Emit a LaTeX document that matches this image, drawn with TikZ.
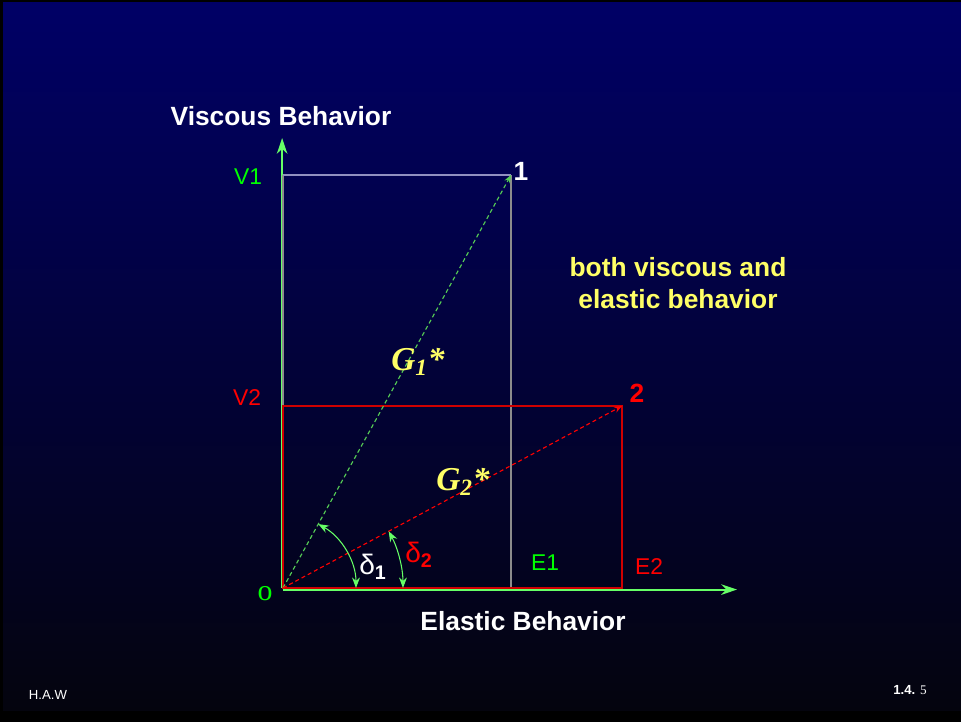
\documentclass[tikz,border=0pt]{standalone}
\usepackage{fontspec}
\setmainfont{Liberation Sans}
\newfontfamily\timesfont{Liberation Serif}
\usetikzlibrary{arrows.meta, positioning, angles}
\definecolor{hwnavy}{HTML}{000066}
\definecolor{hwdark}{HTML}{04040E}
\definecolor{hwgreen}{HTML}{66FF66}
\definecolor{hwlabelgreen}{HTML}{00FF00}
\definecolor{hwdash}{HTML}{55CC55}
\definecolor{hwred}{HTML}{FF0000}
\definecolor{hwdarkred}{HTML}{D00000}
\definecolor{hwgray}{HTML}{8C8C8C}
\definecolor{hwslate}{HTML}{9090C0}
\definecolor{hwyellow}{HTML}{FFFF66}

\begin{document}
\begin{tikzpicture}[
  x=0.02cm, y=0.02cm,
  titlenode/.style={font=\fontsize{15}{18}\selectfont\bfseries, text=white},
  ticknode/.style={font=\fontsize{13}{15}\selectfont},
  pointnode/.style={font=\fontsize{15}{18}\selectfont\bfseries},
  gnode/.style={font=\fontsize{19}{22}\selectfont\timesfont\bfseries\itshape, text=hwyellow},
  anglenode/.style={font=\fontsize{16}{18}\selectfont},
  footnode/.style={font=\fontsize{7.5}{9}\selectfont, text=white},
  axisline/.style={hwgreen, line width=1.2pt, -{Stealth[length=9pt, width=6pt]}},
  boxline/.style={line width=0.6pt},
  vecline/.style={line width=0.65pt, dash pattern=on 2.3pt off 1.7pt, -{Stealth[length=4.5pt, width=3.5pt]}},
  anglearc/.style={draw=hwgreen, line width=0.6pt, {Stealth[length=6pt, width=4.5pt]}-{Stealth[length=6pt, width=4.5pt]}},
]

% Background slide
\useasboundingbox (0,0) rectangle (961,722);
\fill[black] (0,0) rectangle (961,722);
\shade[top color=hwnavy, bottom color=hwdark] (3,11) rectangle (961,719);

% Points
\coordinate (O) at (283,134);
\coordinate (ytip) at (283,584);
\coordinate (xtip) at (737,134);
\coordinate (P1) at (511,547);
\coordinate (P2) at (622,316);
\coordinate (V1) at (283,547);
\coordinate (V2) at (283,316);
\coordinate (E1) at (511,134);
\coordinate (E2) at (622,134);

% Axes
\draw[axisline] ([yshift=-0.9pt]O) -- ([yshift=-0.9pt]xtip);
\draw[axisline] ([xshift=-0.5pt]O) -- ([xshift=-0.5pt]ytip);

% Component boxes
\draw[boxline, hwgray] (V1) -- (O) -- (E1) -- (P1);
\draw[boxline, hwslate] (V1) -- (P1);
\draw[boxline, hwdarkred] (O) -- (V2) -- (P2) -- (E2) -- cycle;

% Complex moduli
\draw[vecline, hwdash] (O) -- (P1);
\draw[vecline, hwred] (O) -- (P2);

% Phase angles
\pic[anglearc, angle radius=1.46cm] {angle = xtip--O--P1};
\pic[anglearc, angle radius=2.4cm] {angle = xtip--O--P2};

% Labels
\node[titlenode] (ylab) at (281,606) {Viscous Behavior};
\node[titlenode] (xlab) at (523,101) {Elastic Behavior};
\node[pointnode, text=white] (n1) at (521,551) {1};
\node[pointnode, text=hwred] (n2) at (637,329) {2};
\node[ticknode, text=hwlabelgreen] (v1) at (248,545) {V1};
\node[ticknode, text=hwred] (v2) at (247,324) {V2};
\node[ticknode, text=hwlabelgreen] (e1) at (545,159) {E1};
\node[ticknode, text=hwred] (e2) at (649,155) {E2};
\node[font=\fontsize{17}{18}\selectfont\timesfont, text=hwlabelgreen] (o) at (265,128) {o};
\node[gnode] (g1) at (418,360) {G\textsubscript{1}*};
\node[gnode] (g2) at (463,240) {G\textsubscript{2}*};
\node[anglenode, text=white] (d1) at (373,155) {δ\textsubscript{\bfseries 1}};
\node[anglenode, text=hwred] (d2) at (419,167) {δ\textsubscript{\bfseries 2}};
\node[titlenode, text=hwyellow, align=center] (both) at (678,439) {both viscous and\\elastic behavior};

% Footer
\node[footnode] (haw) at (48,27) {H.A.W};
\node[footnode] (page) at (910,32) {\bfseries 1.4. {\timesfont\mdseries 5}};

\end{tikzpicture}
\end{document}
